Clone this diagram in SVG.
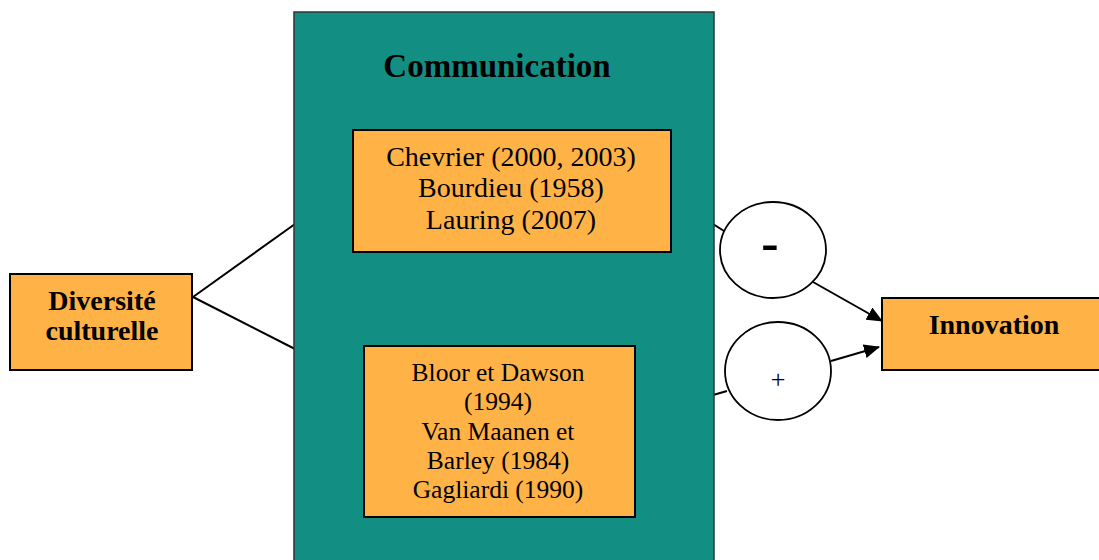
<svg xmlns="http://www.w3.org/2000/svg" width="1099" height="560" viewBox="0 0 1099 560">
<style>
.box{fill:#FFB347;stroke:#000;stroke-width:2}
.t{font-family:"Liberation Serif","Times New Roman",serif;fill:#000;text-anchor:middle}
.b{font-weight:bold}
.ln{stroke:#000;stroke-width:2;fill:none}
.circ{fill:#fff;stroke:#000;stroke-width:1.8}
</style>
<defs>
<marker id="ah2" markerWidth="16" markerHeight="14" refX="15" refY="7" orient="auto" markerUnits="userSpaceOnUse">
<path d="M0,0 L16,7 L0,14 Z" fill="#000"/>
</marker>
</defs>
<rect width="1099" height="560" fill="#fff"/>
<g id="connectors">
<line class="ln" x1="193" y1="297" x2="295" y2="224"/>
<line class="ln" x1="193" y1="297" x2="295" y2="349"/>
<line class="ln" x1="713" y1="224" x2="724" y2="231"/>
<line class="ln" x1="713" y1="395" x2="727" y2="391"/>
<line class="ln" x1="813" y1="282" x2="882" y2="321" marker-end="url(#ah2)"/>
<line class="ln" x1="831" y1="361" x2="879" y2="347" marker-end="url(#ah2)"/>
</g>
<g id="communication">
<rect x="294" y="12" width="420" height="560" fill="#138E83" stroke="#333" stroke-width="1.5"/>
<text class="t b" x="497" y="77" font-size="33">Communication</text>
</g>
<g id="refs-top">
<rect class="box" x="353" y="130" width="318" height="122"/>
<text class="t" x="511" y="166" font-size="28">Chevrier (2000, 2003)</text>
<text class="t" x="511" y="197" font-size="28">Bourdieu (1958)</text>
<text class="t" x="511" y="229" font-size="28">Lauring (2007)</text>
</g>
<g id="refs-bottom">
<rect class="box" x="364" y="346" width="271" height="171"/>
<text class="t" x="498" y="381" font-size="25.5">Bloor et Dawson</text>
<text class="t" x="498" y="410" font-size="25.5">(1994)</text>
<text class="t" x="498" y="440" font-size="25.5">Van Maanen et</text>
<text class="t" x="498" y="469" font-size="25.5">Barley (1984)</text>
<text class="t" x="498" y="498" font-size="25.5">Gagliardi (1990)</text>
</g>
<g id="diversite">
<rect class="box" x="10" y="274" width="182" height="96"/>
<text class="t b" x="102" y="310" font-size="28">Diversité</text>
<text class="t b" x="102" y="340" font-size="28">culturelle</text>
</g>
<g id="minus">
<ellipse class="circ" cx="773" cy="250" rx="53" ry="48"/>
<text class="t b" x="770" y="260" font-size="52">-</text>
</g>
<g id="plus">
<ellipse class="circ" cx="778" cy="371" rx="53" ry="49"/>
<text class="t" x="778" y="388" font-size="26">+</text>
</g>
<g id="innovation">
<rect class="box" x="882" y="298" width="220" height="72"/>
<text class="t b" x="994" y="334" font-size="28">Innovation</text>
</g>
</svg>
